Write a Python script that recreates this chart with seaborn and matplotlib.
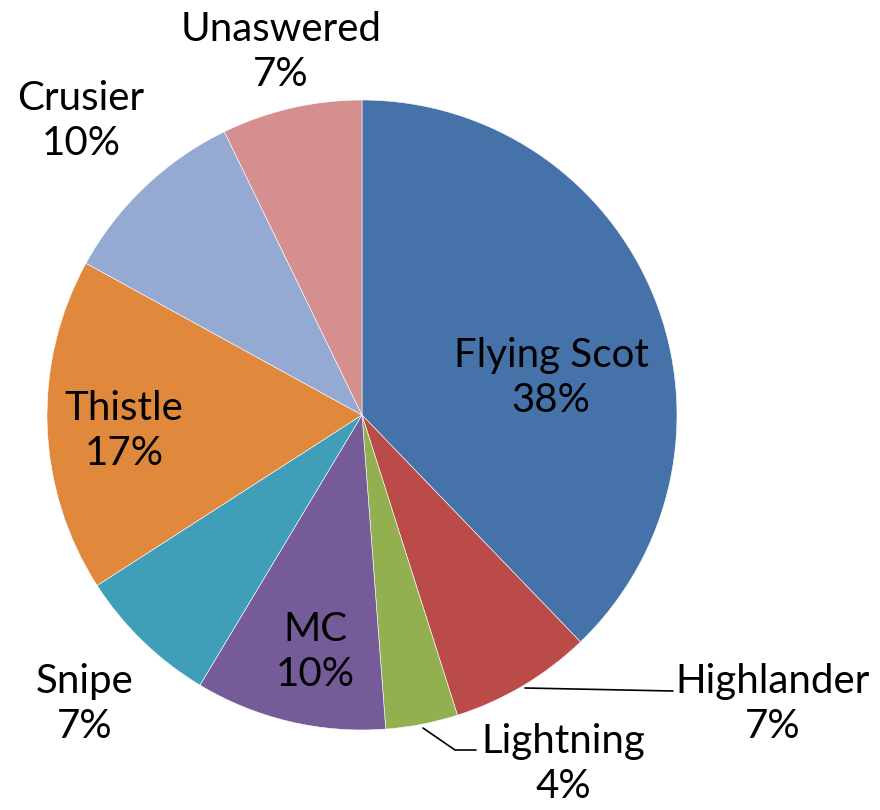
import matplotlib
matplotlib.use("Agg")
import matplotlib.pyplot as plt
import seaborn as sns

# boat class shares (percent), clockwise from 12 o'clock
boats = ["Flying Scot", "Highlander", "Lightning", "MC", "Snipe",
         "Thistle", "Crusier", "Unaswered"]
shares = [37.8, 7.3, 3.7, 9.8, 7.3, 17.1, 9.8, 7.2]

slice_colors = ["#4672AA", "#BB4B48", "#92B050", "#755B98",
                "#409EB9", "#E0883C", "#94AAD3", "#D58F8F"]

# label centres in pixel coords (from top-left), plus leader lines
label_pos = [(551, 378), (773, 704), (563, 764), (315, 652), (85, 704),
             (124, 431), (81, 121), (281, 52)]
leaders = {
    "Highlander": [(525, 688), (673, 691)],
    "Lightning": [(423, 728), (455, 750), (476, 750)],
}

W, H = 880, 810
CX, CY, R = 362, 415, 315

sns.set_theme(style="white")
plt.rcParams["font.family"] = ["Lato", "DejaVu Sans"]

fig = plt.figure(figsize=(W / 100, H / 100), dpi=100)
ax = fig.add_axes([0, 0, 1, 1])

palette = sns.color_palette(slice_colors)
ax.pie(shares, colors=palette, startangle=90, counterclock=False,
       center=(CX, H - CY), radius=R, frame=True,
       wedgeprops=dict(edgecolor="white", linewidth=0.4))
ax.set_xlim(0, W)
ax.set_ylim(0, H)
ax.set_aspect("equal")
ax.axis("off")

total = sum(shares)
for name, val, (px, py) in zip(boats, shares, label_pos):
    pct = round(val / total * 100)
    ax.text(px, H - py, f"{name}\n{pct}%", ha="center", va="center",
            fontsize=29, color="black", linespacing=1.25)

for name, pts in leaders.items():
    xs = [p[0] for p in pts]
    ys = [H - p[1] for p in pts]
    ax.plot(xs, ys, color="black", lw=1.2)

fig.savefig("out.png", dpi=100)
